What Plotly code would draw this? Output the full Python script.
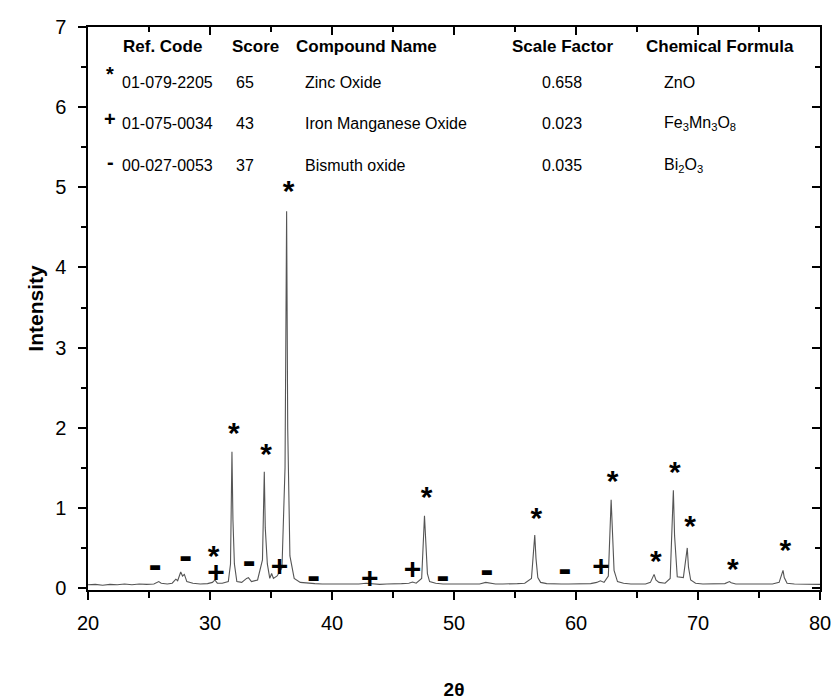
import plotly.graph_objects as go

# ---------------- data ----------------
two_theta = [20.0, 20.6, 21.2, 21.8, 22.4, 23.0, 23.6, 24.2, 24.8, 25.4, 25.8, 26.0, 26.5, 26.9,
             27.2, 27.35, 27.6, 27.75, 27.9, 28.1, 28.6, 29.2, 29.8, 30.2, 30.4, 30.6, 31.0,
             31.5, 31.68, 31.8, 31.88, 32.0, 32.2, 32.6, 33.0, 33.15, 33.4, 33.9, 34.3, 34.45,
             34.53, 34.7, 34.9, 35.05, 35.2, 35.5, 35.9, 36.15, 36.28, 36.37, 36.55, 36.9, 37.4,
             38.0, 38.6, 39.2, 39.8, 40.4, 41.0, 41.6, 42.2, 42.8, 43.3, 43.9, 44.5, 45.1, 45.7,
             46.3, 46.6, 46.9, 47.35, 47.58, 47.68, 47.82, 48.0, 48.5, 49.1, 49.7, 50.3, 50.9,
             51.5, 52.1, 52.6, 52.9, 53.4, 54.0, 54.6, 55.2, 55.8, 56.35, 56.62, 56.72, 56.87,
             57.1, 57.6, 58.2, 58.8, 59.4, 60.0, 60.6, 61.2, 61.7, 62.0, 62.3, 62.65, 62.88,
             62.98, 63.12, 63.4, 63.9, 64.5, 65.1, 65.7, 66.1, 66.4, 66.55, 66.8, 67.3, 67.72,
             67.98, 68.08, 68.3, 68.8, 69.12, 69.22, 69.4, 69.8, 70.4, 71.0, 71.6, 72.2, 72.58,
             72.72, 73.1, 73.7, 74.3, 74.9, 75.5, 76.1, 76.65, 76.97, 77.07, 77.3, 77.9, 78.5,
             79.1, 79.7, 80.0]
intensity = [0.04, 0.045, 0.035, 0.045, 0.04, 0.05, 0.04, 0.05, 0.045, 0.05, 0.08, 0.06, 0.05, 0.06,
             0.11, 0.09, 0.2, 0.15, 0.17, 0.08, 0.06, 0.05, 0.055, 0.07, 0.1, 0.06, 0.06,
             0.08, 0.3, 1.7, 0.85, 0.3, 0.08, 0.07, 0.12, 0.13, 0.08, 0.1, 0.35, 1.45,
             0.75, 0.3, 0.12, 0.18, 0.12, 0.15, 0.25, 1.5, 4.7, 2.0, 0.4, 0.12, 0.07,
             0.06, 0.055, 0.05, 0.05, 0.045, 0.05, 0.045, 0.05, 0.06, 0.05, 0.045, 0.05, 0.05, 0.055,
             0.06, 0.075, 0.06, 0.12, 0.9, 0.5, 0.18, 0.08, 0.06, 0.05, 0.05, 0.045, 0.05,
             0.05, 0.05, 0.07, 0.06, 0.05, 0.05, 0.05, 0.055, 0.06, 0.12, 0.66, 0.37, 0.13,
             0.07, 0.055, 0.05, 0.05, 0.05, 0.05, 0.05, 0.055, 0.07, 0.09, 0.07, 0.15, 1.1,
             0.62, 0.22, 0.08, 0.06, 0.05, 0.05, 0.05, 0.07, 0.17, 0.1, 0.07, 0.06, 0.12,
             1.22, 0.65, 0.14, 0.13, 0.5, 0.26, 0.1, 0.06, 0.05, 0.05, 0.05, 0.055, 0.08,
             0.065, 0.05, 0.05, 0.05, 0.05, 0.05, 0.05, 0.07, 0.22, 0.13, 0.06, 0.05, 0.05,
             0.045, 0.05, 0.045]

# phase markers (* ZnO, + Fe3Mn3O8, - Bi2O3)
star_x = [30.3, 31.95, 34.6, 36.45, 47.75, 56.75, 63.0, 66.55, 68.1, 69.35, 72.85, 77.15]
star_y = [0.37, 1.9, 1.64, 4.92, 1.1, 0.84, 1.3, 0.3, 1.42, 0.74, 0.2, 0.44]
plus_x = [30.5, 35.7, 43.1, 46.6, 62.05]
plus_y = [0.17, 0.24, 0.09, 0.21, 0.24]
dash_x = [25.5, 28.0, 33.2, 38.5, 49.1, 52.7, 59.1]
dash_y = [0.25, 0.37, 0.3, 0.12, 0.12, 0.19, 0.2]

# reference table
tbl_headers = ["Ref. Code", "Score", "Compound Name", "Scale Factor", "Chemical Formula"]
tbl_symbols = ["*", "+", "-"]
tbl_codes = ["01-079-2205", "01-075-0034", "00-027-0053"]
tbl_scores = ["65", "43", "37"]
tbl_names = ["Zinc Oxide", "Iron Manganese Oxide", "Bismuth oxide"]
tbl_scales = ["0.658", "0.023", "0.035"]
tbl_formulas = ["ZnO", "Fe<sub>3</sub>Mn<sub>3</sub>O<sub>8</sub>", "Bi<sub>2</sub>O<sub>3</sub>"]

x_range = [20, 80]
y_range = [-0.025, 7]

# ---------------- layout helpers ----------------
W, H = 835, 700
L, R, T, B = 88, 820, 27, 590
FONT = "Arial, Liberation Sans, sans-serif"


def px(xp):
    return (xp - L) / (R - L)


def py(yp):
    return (B - yp) / (B - T)


fig = go.Figure()
fig.add_trace(go.Scatter(x=two_theta, y=intensity, mode="lines",
                         line=dict(color="#555555", width=1.1), showlegend=False,
                         hoverinfo="skip"))
fig.add_trace(go.Scatter(x=star_x, y=star_y, mode="text", text=["*"] * len(star_x),
                         textfont=dict(family=FONT, size=30, color="black", weight="bold"),
                         textposition="middle center", showlegend=False, hoverinfo="skip"))
fig.add_trace(go.Scatter(x=plus_x, y=plus_y, mode="text", text=["+"] * len(plus_x),
                         textfont=dict(family=FONT, size=30, color="black", weight="bold"),
                         textposition="middle center", showlegend=False, hoverinfo="skip"))
fig.add_trace(go.Scatter(x=dash_x, y=dash_y, mode="text", text=["▬"] * len(dash_x),
                         textfont=dict(family="DejaVu Sans", size=13, color="black"),
                         textposition="middle center", showlegend=False, hoverinfo="skip"))
# invisible trace for mirror axes
fig.add_trace(go.Scatter(x=x_range, y=y_range, xaxis="x2", yaxis="y2", mode="markers",
                         marker=dict(opacity=0), showlegend=False, hoverinfo="skip"))

ann = []
head_x = [162, 255, 366, 562, 720]
for h, cx in zip(tbl_headers, head_x):
    ann.append(dict(x=px(cx), y=py(47), xref="paper", yref="paper", text="<b>" + h + "</b>",
                    showarrow=False, xanchor="center", yanchor="middle",
                    font=dict(family=FONT, size=17, color="black")))
row_y = [82, 123, 165]
col_x = [120, 234, 303, 540, 662]
sym_pos = [(110, 74), (110, 119), (110, 162)]
for i in range(3):
    ys = row_y[i]
    vals = [tbl_codes[i], tbl_scores[i], tbl_names[i], tbl_scales[i], tbl_formulas[i]]
    for v, cx in zip(vals, col_x):
        ann.append(dict(x=px(cx), y=py(ys), xref="paper", yref="paper", text=v,
                        showarrow=False, xanchor="left", yanchor="middle",
                        font=dict(family=FONT, size=16, color="black")))
    sx, sy = sym_pos[i]
    ann.append(dict(x=px(sx), y=py(sy), xref="paper", yref="paper", text="<b>" + tbl_symbols[i] + "</b>",
                    showarrow=False, xanchor="center", yanchor="middle",
                    font=dict(family=FONT, size=20, color="black")))

fig.update_layout(
    width=W, height=H,
    margin=dict(l=L, r=W - R, t=T, b=H - B, autoexpand=False),
    paper_bgcolor="white", plot_bgcolor="white",
    font=dict(family=FONT, size=18, color="black"),
    showlegend=False,
    annotations=ann,
    xaxis=dict(range=x_range, dtick=10, tick0=20, ticks="outside", ticklen=8, tickwidth=1.5,
               tickcolor="black", showline=True, linecolor="black", linewidth=1.5,
               showgrid=False, zeroline=False, tickfont=dict(size=20), ticklabelstandoff=6,
               automargin=False,
               minor=dict(dtick=5, ticks="outside", ticklen=6, tickwidth=1.5, tickcolor="black", showgrid=False),
               title=dict(text="<b>2θ</b>", font=dict(size=19), standoff=50)),
    yaxis=dict(range=y_range, dtick=1, tick0=0, ticks="outside", ticklen=8, tickwidth=1.5,
               tickcolor="black", showline=True, linecolor="black", linewidth=1.5,
               showgrid=False, zeroline=False, tickfont=dict(size=20), ticklabelstandoff=8,
               automargin=False,
               minor=dict(dtick=0.5, ticks="outside", ticklen=5, tickwidth=1.5, tickcolor="black", showgrid=False),
               title=dict(text="<b>Intensity</b>", font=dict(size=21), standoff=6)),
    xaxis2=dict(range=x_range, overlaying="x", side="top", dtick=10, tick0=20, ticks="inside",
                ticklen=8, tickwidth=1.5, tickcolor="black", showline=True, linecolor="black",
                linewidth=1.5, showticklabels=False, showgrid=False, zeroline=False, automargin=False,
                minor=dict(dtick=5, ticks="inside", ticklen=5, tickwidth=1.5, tickcolor="black", showgrid=False)),
    yaxis2=dict(range=y_range, overlaying="y", side="right", dtick=1, tick0=0, ticks="inside",
                ticklen=8, tickwidth=1.5, tickcolor="black", showline=True, linecolor="black",
                linewidth=1.5, showticklabels=False, showgrid=False, zeroline=False, automargin=False,
                minor=dict(dtick=0.5, ticks="inside", ticklen=5, tickwidth=1.5, tickcolor="black", showgrid=False)),
)

fig.write_html("out.html")
